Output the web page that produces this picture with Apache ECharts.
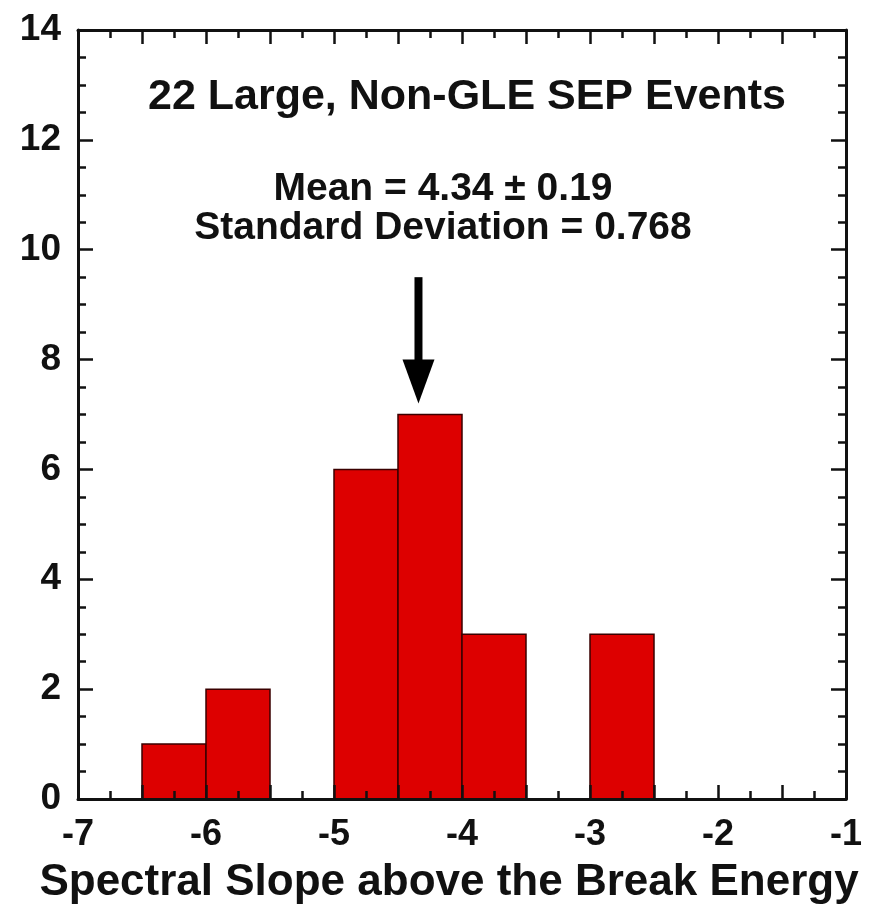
<!DOCTYPE html>
<html>
<head>
<meta charset="utf-8">
<script src="https://cdn.jsdelivr.net/npm/echarts@6/dist/echarts.min.js"></script>
<style>
  html, body { margin: 0; padding: 0; background: #fff; }
  #chart { width: 872px; height: 907px; }
</style>
</head>
<body>
<div id="chart"></div>
<script>
// Histogram bins of the spectral slope (bin start, bin end) and event counts
const binStarts = [-6.5, -6.0, -5.0, -4.5, -4.0, -3.0];
const binEnds   = [-6.0, -5.5, -4.5, -4.0, -3.5, -2.5];
const counts    = [1, 2, 6, 7, 3, 3];

// Mean slope marked by the arrow (arrow runs from arrowTop down to arrowTip)
const meanSlope = -4.34;
const arrowTop = 9.5;
const arrowTip = 7.2;

const titleText = '22 Large, Non-GLE SEP Events';
const meanText = 'Mean = 4.34 \u00b1 0.19';
const sdText = 'Standard Deviation = 0.768';
const xTitle = 'Spectral Slope above the Break Energy';

const FONT = '"Liberation Sans", Arial, Helvetica, sans-serif';
const chart = echarts.init(document.getElementById('chart'));

const binData = binStarts.map((s, i) => [s, binEnds[i], counts[i]]);

const axisLine = { show: true, onZero: false, lineStyle: { color: '#111', width: 3 } };

// axes are drawn above the bars so the inward ticks show over them
const xCommon = {
  type: 'value', min: -7, max: -1, interval: 0.5, zlevel: 1, z: 10,
  axisLine: axisLine,
  axisTick: { show: true, inside: true, length: 14, lineStyle: { color: '#111', width: 2.5 } },
  minorTick: { show: true, splitNumber: 2, length: 8, lineStyle: { color: '#111', width: 2.5 } },
  splitLine: { show: false }
};
const yCommon = {
  type: 'value', min: 0, max: 14, interval: 2, zlevel: 1, z: 10,
  axisLine: axisLine,
  axisTick: { show: true, inside: true, length: 15, lineStyle: { color: '#111', width: 2.5 } },
  minorTick: { show: true, splitNumber: 4, length: 8, lineStyle: { color: '#111', width: 2.5 } },
  splitLine: { show: false }
};

chart.setOption({
  animation: false,
  backgroundColor: '#fff',
  grid: { left: 78, right: 26, top: 30, bottom: 108, containLabel: false, outerBoundsMode: 'none' },
  xAxis: [
    Object.assign({}, xCommon, {
      position: 'bottom',
      axisLabel: {
        show: true, margin: 18, color: '#111', fontFamily: FONT, fontWeight: 'bold', fontSize: 36,
        formatter: v => (Math.abs(v - Math.round(v)) < 1e-9 ? String(Math.round(v)) : '')
      },
      name: xTitle, nameLocation: 'middle', nameGap: 62,
      nameTextStyle: { color: '#111', fontFamily: FONT, fontWeight: 'bold', fontSize: 44, padding: [0, 26, 0, 0] }
    }),
    Object.assign({}, xCommon, { position: 'top', axisLabel: { show: false } })
  ],
  yAxis: [
    Object.assign({}, yCommon, {
      position: 'left',
      axisLabel: { show: true, margin: 17, color: '#111', fontFamily: FONT, fontWeight: 'bold', fontSize: 37, padding: [0, 0, 10, 0] }
    }),
    Object.assign({}, yCommon, { position: 'right', axisLabel: { show: false } })
  ],
  graphic: [
    { type: 'text', x: 467, y: 97, style: { text: titleText, fill: '#111', font: 'bold 43px ' + FONT, textAlign: 'center', textVerticalAlign: 'middle' } },
    { type: 'text', x: 443, y: 189, style: { text: meanText, fill: '#111', font: 'bold 39px ' + FONT, textAlign: 'center', textVerticalAlign: 'middle' } },
    { type: 'text', x: 443, y: 228, style: { text: sdText, fill: '#111', font: 'bold 39px ' + FONT, textAlign: 'center', textVerticalAlign: 'middle' } }
  ],
  series: [
    {
      type: 'custom',
      xAxisIndex: 0, yAxisIndex: 0,
      data: binData,
      renderItem: function (params, api) {
        const p0 = api.coord([api.value(0), api.value(2)]);
        const p1 = api.coord([api.value(1), 0]);
        return {
          type: 'rect',
          shape: { x: p0[0], y: p0[1], width: p1[0] - p0[0], height: p1[1] - p0[1] },
          style: { fill: '#dd0000', stroke: '#3a0000', lineWidth: 1.5 }
        };
      },
      z: 1
    },
    {
      type: 'custom',
      xAxisIndex: 0, yAxisIndex: 0,
      data: [[meanSlope, arrowTop, arrowTip]],
      renderItem: function (params, api) {
        const top = api.coord([api.value(0), api.value(1)]);
        const tip = api.coord([api.value(0), api.value(2)]);
        const headLen = 44, headHalf = 16, shaftHalf = 4;
        const x = top[0];
        return {
          type: 'group',
          children: [
            { type: 'rect', shape: { x: x - shaftHalf, y: top[1], width: shaftHalf * 2, height: tip[1] - top[1] - headLen + 2 }, style: { fill: '#000' } },
            { type: 'polygon', shape: { points: [[x - headHalf, tip[1] - headLen], [x + headHalf, tip[1] - headLen], [x, tip[1]]] }, style: { fill: '#000' } }
          ]
        };
      },
      z: 3
    }
  ]
});
</script>
</body>
</html>
